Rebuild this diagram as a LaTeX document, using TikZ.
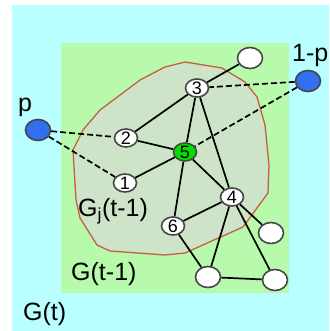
\documentclass[tikz,border=0pt]{standalone}
\usepackage{fontspec}
\setmainfont{Liberation Sans}
\usepackage{tikz}
\usetikzlibrary{arrows.meta,positioning,calc,shapes.geometric}
\usepackage{xcolor}
\definecolor{sky}{RGB}{186,255,255}
\definecolor{lawn}{RGB}{184,250,172}
\definecolor{blob}{RGB}{206,228,200}
\definecolor{rim}{RGB}{195,95,70}
\definecolor{ink}{RGB}{70,70,70}
\definecolor{pblue}{RGB}{50,110,240}
\definecolor{hub}{RGB}{0,225,0}
\tikzset{
  vtx/.style={ellipse,draw=ink,line width=1.6pt,fill=white,inner sep=0pt,
    minimum width=23pt,minimum height=18pt,font=\fontsize{18}{18}\selectfont},
  big/.style={vtx,minimum width=25pt,minimum height=21pt},
  src/.style={big,fill=pblue},
  link/.style={line width=1.7pt,black},
  hop/.style={link,dash pattern=on 6pt off 3pt},
  lbl/.style={font=\fontsize{25}{25}\selectfont,anchor=base west,inner sep=0pt},
}

\begin{document}
\begin{tikzpicture}[x=1pt,y=-1pt]
  \useasboundingbox (0,0) rectangle (329,331);
  \fill[sky] (12,5) rectangle (329,331);
  \fill[lawn] (61,43) rectangle (289,293);
  \draw[rim,fill=blob,line width=1.3pt] (73,150) -- (83,130) -- (100,110) -- (140,80)
    -- (165,67) -- (185,62) -- (222,68) -- (245,82) -- (257,97) -- (265,125)
    -- (269,165) -- (268,193) -- (243,227) -- (185,253) -- (165,255) -- (110,251)
    -- (97,245) -- (80,218) -- (76,200) -- cycle;

  % vertices
  \node[vtx] (v1) at (125,183) {1};
  \node[vtx] (v2) at (126,138) {2};
  \node[vtx] (v3) at (197,88) {3};
  \node[vtx] (v4) at (232,197) {4};
  \node[vtx,fill=hub] (v5) at (185,152) {5};
  \node[vtx] (v6) at (173,226) {6};
  \node[big] (top) at (250,58) {};
  \node[big] (side) at (271,233) {};
  \node[big] (bl) at (208,277) {};
  \node[big] (br) at (275,280) {};
  \node[src] (p) at (38,130) {};
  \node[src] (q) at (308,81) {};

  \node[lbl] (lp) at (18,112) {p};
  \node[lbl] (lq) at (292,62) {1-p};
  \node[lbl] (lgj) at (78,216) {G\textsubscript{j}(t-1)};
  \node[lbl] (lg1) at (71,280) {G(t-1)};
  \node[lbl] (lg) at (23,320) {G(t)};

  \foreach \a/\b in {top/v3,v3/v2,v3/v5,v3/v4,v2/v5,v1/v5,v5/v4,v5/v6,v6/v4,
    v4/side,v4/bl,v4/br,v6/bl,bl/br}
    \draw[link] (\a) -- (\b);
  \foreach \a/\b in {p/v2,p/v1,q/v3,q/v5}
    \draw[hop] (\a) -- (\b);
\end{tikzpicture}
\end{document}
